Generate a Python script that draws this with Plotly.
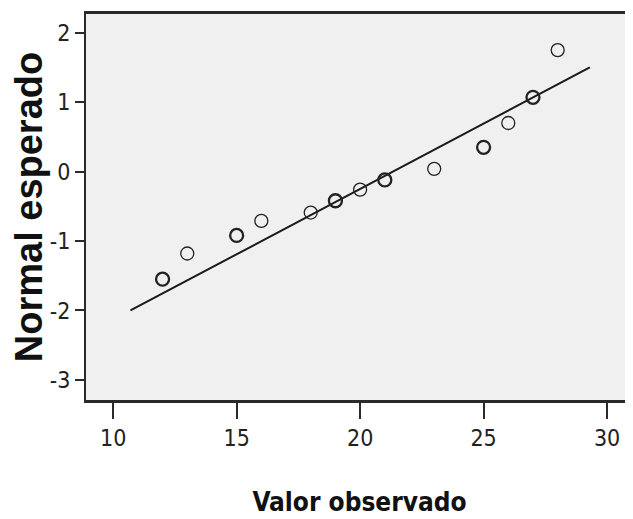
import plotly.graph_objects as go

# Observed values (x) and expected normal values (y)
observed = [12, 13, 15, 16, 18, 19, 20, 21, 23, 25, 26, 27, 28]
expected = [-1.55, -1.18, -0.92, -0.71, -0.59, -0.42, -0.26, -0.12, 0.04, 0.35, 0.70, 1.07, 1.75]
counts = [2, 1, 2, 1, 1, 2, 1, 2, 1, 2, 1, 2, 1]

# Reference line endpoints
line_x = [10.7, 29.3]
line_y = [-2.0, 1.5]

x_ticks = [10, 15, 20, 25, 30]
y_ticks = [-3, -2, -1, 0, 1, 2]

narrow = "DejaVu Sans Condensed, Liberation Sans Narrow, sans-serif"

fig = go.Figure()
fig.add_trace(go.Scatter(
    x=line_x, y=line_y, mode="lines",
    line=dict(color="#1a1a1a", width=2), hoverinfo="skip", showlegend=False))
fig.add_trace(go.Scatter(
    x=observed, y=expected, mode="markers",
    marker=dict(symbol="circle-open", size=13, color="#222222",
                line=dict(color="#222222", width=[1.3 if c == 1 else 2.3 for c in counts])),
    showlegend=False))

# page body has an 8px margin, so the figure is sized to fill the rest of the window
fig.update_layout(
    width=625, height=511,
    margin=dict(l=78, r=0, t=6, b=119),
    paper_bgcolor="white",
    plot_bgcolor="#f0f0f0",
    xaxis=dict(
        range=[8.9, 31.05], tickvals=x_ticks, ticktext=[str(v) for v in x_ticks],
        showgrid=False, zeroline=False, automargin=False,
        showline=True, linecolor="#2a2a2a", linewidth=2.5, mirror=True,
        ticks="outside", ticklen=16, tickwidth=2, tickcolor="#2a2a2a",
        tickfont=dict(family=narrow, size=23, color="#222222"),
        title=dict(text="Valor observado", standoff=43,
                   font=dict(family=narrow, size=26, color="#111111", weight="bold")),
    ),
    yaxis=dict(
        range=[-3.29, 2.27], tickvals=y_ticks, ticktext=[str(v) for v in y_ticks],
        showgrid=False, zeroline=False, automargin=False,
        showline=True, linecolor="#2a2a2a", linewidth=2, mirror=False,
        ticks="outside", ticklen=9, tickwidth=2, tickcolor="#2a2a2a",
        tickfont=dict(family=narrow, size=23, color="#222222"),
        title=dict(text="Normal esperado", standoff=6,
                   font=dict(family="Liberation Sans, Arial, sans-serif", size=38,
                             color="#111111", weight="bold")),
    ),
)

fig.write_html("out.html")
